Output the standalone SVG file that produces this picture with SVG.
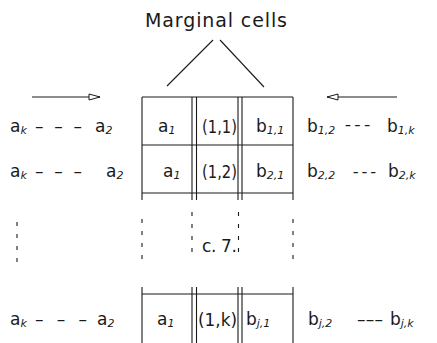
<svg xmlns="http://www.w3.org/2000/svg" width="437" height="343" viewBox="0 0 437 343">
<defs>
<style>
text { font-family: "DejaVu Sans", "Liberation Sans", sans-serif; font-size: 17px; fill: #1a1a1a; }
.title { font-size: 19px; }
.sub { font-size: 11px; font-style: italic; }
.ln { stroke: #1a1a1a; stroke-width: 1.1; fill: none; }
.dash { stroke-dasharray: 4 8; }
</style>
<marker id="ah" viewBox="0 0 13 8" refX="12" refY="4" markerWidth="13" markerHeight="8" markerUnits="userSpaceOnUse" orient="auto">
<path d="M1,1 L12,4 L1,7 Z" fill="#fff" stroke="#1a1a1a" stroke-width="1"/>
</marker>
</defs>
<rect width="437" height="343" fill="#fff"/>

<g id="marginal-label">
<text class="title" x="216" y="27" text-anchor="middle" textLength="142" lengthAdjust="spacing">Marginal cells</text>
</g>

<g id="connectors">
<line class="ln" x1="213" y1="40" x2="167" y2="86"/>
<line class="ln" x1="220" y1="40" x2="264" y2="87"/>
<line class="ln" x1="32" y1="97" x2="100" y2="97" marker-end="url(#ah)"/>
<line class="ln" x1="397" y1="97" x2="327" y2="97" marker-end="url(#ah)"/>
</g>

<g id="grid">
<path class="ln" d="M142,97 H293 M142,145 H293 M142,193 H293 M142,294 H293"/>
<path class="ln" d="M142,97 V200 M192,97 V200 M196.5,97 V200 M238,97 V200 M242,97 V200 M293,97 V200"/>
<path class="ln" d="M142,287 V343 M192,287 V343 M196.5,287 V343 M238,287 V343 M242,287 V343 M293,287 V343"/>
<path class="ln dash" d="M142,219 V266 M192,212 V258 M238.5,212 V258 M293,219 V266 M17,222 V266"/>
</g>

<g id="row-1">
<text x="10" y="132">a<tspan class="sub" dy="2">k</tspan></text>
<text x="35" y="132" textLength="47" lengthAdjust="spacing">– – –</text>
<text x="95" y="132">a<tspan class="sub" dy="2">2</tspan></text>
<text x="158" y="132">a<tspan class="sub" dy="2">1</tspan></text>
<text x="202" y="133" textLength="35" lengthAdjust="spacingAndGlyphs">(1,1)</text>
<text x="256" y="132">b<tspan class="sub" dy="2">1,1</tspan></text>
<text x="307" y="132">b<tspan class="sub" dy="2">1,2</tspan></text>
<text x="345" y="130" textLength="25" lengthAdjust="spacingAndGlyphs">– – –</text>
<text x="387" y="132">b<tspan class="sub" dy="2">1,k</tspan></text>
</g>

<g id="row-2">
<text x="10" y="177">a<tspan class="sub" dy="2">k</tspan></text>
<text x="35" y="177" textLength="47" lengthAdjust="spacing">– – –</text>
<text x="106" y="177">a<tspan class="sub" dy="2">2</tspan></text>
<text x="163" y="177">a<tspan class="sub" dy="2">1</tspan></text>
<text x="202" y="178" textLength="35" lengthAdjust="spacingAndGlyphs">(1,2)</text>
<text x="256" y="177">b<tspan class="sub" dy="2">2,1</tspan></text>
<text x="307" y="177">b<tspan class="sub" dy="2">2,2</tspan></text>
<text x="353" y="177" textLength="23" lengthAdjust="spacingAndGlyphs">– – –</text>
<text x="388" y="177">b<tspan class="sub" dy="2">2,k</tspan></text>
</g>

<g id="ellipsis">
<text x="202" y="252" textLength="35" lengthAdjust="spacing">c. 7.</text>
</g>

<g id="row-k">
<text x="10" y="325">a<tspan class="sub" dy="2">k</tspan></text>
<text x="35" y="325" textLength="52" lengthAdjust="spacing">– – –</text>
<text x="97" y="325">a<tspan class="sub" dy="2">2</tspan></text>
<text x="157" y="325">a<tspan class="sub" dy="2">1</tspan></text>
<text x="198" y="326" textLength="39" lengthAdjust="spacingAndGlyphs">(1,k)</text>
<text x="246" y="325">b<tspan class="sub" dy="2">j,1</tspan></text>
<text x="308" y="325">b<tspan class="sub" dy="2">j,2</tspan></text>
<text x="357" y="325" textLength="26" lengthAdjust="spacing">– – –</text>
<text x="390" y="325">b<tspan class="sub" dy="2">j,k</tspan></text>
</g>
</svg>
